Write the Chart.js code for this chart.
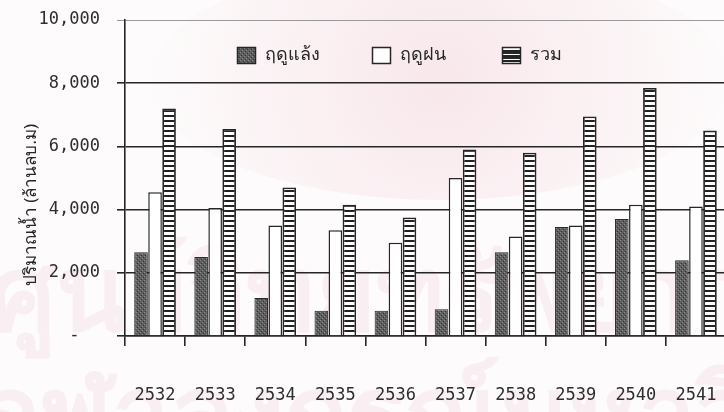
<!DOCTYPE html>
<html>
<head>
<meta charset="utf-8">
<script src="https://cdn.jsdelivr.net/npm/chart.js@4/dist/chart.umd.min.js"></script>
<style>
  html, body { margin: 0; padding: 0; background: #fdfbfb; overflow: hidden; }
  #wrap { position: relative; width: 724px; height: 412px; overflow: hidden; }
  #c { position: absolute; left: 0; top: 0; }
</style>
</head>
<body>
<div id="wrap"><canvas id="c" width="732" height="412"></canvas></div>
<script>
// Water volume by year (million cubic metres)
const years = ['2532', '2533', '2534', '2535', '2536', '2537', '2538', '2539', '2540', '2541'];
const drySeason = [2650, 2500, 1200, 800, 800, 850, 2650, 3450, 3700, 2400];
const rainySeason = [4550, 4050, 3500, 3350, 2950, 5000, 3150, 3500, 4150, 4100];
const totalFlow = [7200, 6550, 4700, 4150, 3750, 5900, 5800, 6950, 7850, 6500];
const seriesNames = ['ฤดูแล้ง', 'ฤดูฝน', 'รวม'];
const yTickValues = [0, 2000, 4000, 6000, 8000, 10000];
const yTitle = 'ปริมาณน้ำ (ล้านลบ.ม)';

const NUM_FONT = "'DejaVu Sans Mono', monospace";
const THAI_FONT = "'Noto Sans', 'DejaVu Sans', sans-serif";
const INK = '#262626';

const canvas = document.getElementById('c');
const ctx = canvas.getContext('2d');

function makePattern(w, h, paint) {
  const t = document.createElement('canvas');
  t.width = w; t.height = h;
  paint(t.getContext('2d'));
  return ctx.createPattern(t, 'repeat');
}

// fine grey stipple for the dry-season bars
const stipple = makePattern(4, 4, g => {
  g.fillStyle = '#5e5e5e'; g.fillRect(0, 0, 4, 4);
  g.fillStyle = '#8c8c8c'; g.fillRect(0, 0, 1, 1); g.fillRect(2, 2, 1, 1);
  g.fillStyle = '#353535'; g.fillRect(1, 3, 1, 1); g.fillRect(3, 1, 1, 1);
});
// horizontal rungs for the total bars
const rungs = makePattern(4, 5, g => {
  g.fillStyle = '#ffffff'; g.fillRect(0, 0, 4, 5);
  g.fillStyle = '#222222'; g.fillRect(0, 0, 4, 2);
});

function fmtTick(v) {
  if (v === 0) return '-  ';
  return v.toLocaleString('en-US');
}

// faint library stamp behind the plot
const backdrop = {
  id: 'backdrop',
  beforeDraw(chart) {
    const g = chart.ctx;
    g.save();
    g.fillStyle = '#fdfbfb';
    g.fillRect(0, 0, chart.width, chart.height);
    const grad = g.createRadialGradient(440, 80, 20, 440, 80, 290);
    grad.addColorStop(0, 'rgba(242,205,215,0.40)');
    grad.addColorStop(1, 'rgba(242,205,215,0)');
    g.fillStyle = grad;
    g.beginPath();
    g.ellipse(440, 80, 290, 120, 0, 0, Math.PI * 2);
    g.fill();
    g.fillStyle = 'rgba(235,190,205,0.20)';
    g.font = "bold 104px 'Noto Sans', sans-serif";
    g.textBaseline = 'alphabetic';
    g.fillText('ศูนย์วิทยทรัพยากร', -10, 330);
    g.fillText('จุฬาลงกรณ์มหาวิทยาลัย', -20, 450);
    g.restore();
  }
};

// legend row inside the plot and the rotated axis caption
const annotations = {
  id: 'annotations',
  afterDraw(chart) {
    const g = chart.ctx;
    g.save();
    const boxX = [237, 372, 502];
    chart.data.datasets.forEach((ds, i) => {
      const x = boxX[i], y = 47;
      g.fillStyle = ds.backgroundColor;
      g.fillRect(x, y, 19, 17);
      g.lineWidth = 1.5;
      g.strokeStyle = INK;
      g.strokeRect(x + 0.5, y + 0.5, 18, 16);
      if (i === 2) {
        g.fillStyle = INK;
        g.fillRect(x, y + 5, 19, 2);
        g.fillRect(x, y + 10, 19, 2);
      }
      g.fillStyle = INK;
      g.font = '18px ' + THAI_FONT;
      g.textBaseline = 'middle';
      g.textAlign = 'left';
      g.fillText(ds.label, x + 28, y + 8);
    });
    g.translate(31, 205);
    g.rotate(-Math.PI / 2);
    g.textAlign = 'center';
    g.textBaseline = 'middle';
    g.font = '17px ' + THAI_FONT;
    g.fillStyle = INK;
    g.fillText(yTitle, 0, 0);
    g.restore();
  }
};

new Chart(canvas, {
  type: 'bar',
  data: {
    labels: years,
    datasets: [
      { label: seriesNames[0], data: drySeason, backgroundColor: stipple, borderColor: '#2a2a2a', borderWidth: 1 },
      { label: seriesNames[1], data: rainySeason, backgroundColor: '#ffffff', borderColor: INK, borderWidth: 1.5 },
      { label: seriesNames[2], data: totalFlow, backgroundColor: rungs, borderColor: INK, borderWidth: 1.8 }
    ]
  },
  options: {
    responsive: false,
    animation: false,
    events: [],
    layout: { padding: { left: 0, top: 20, right: 6, bottom: 0 } },
    datasets: { bar: { categoryPercentage: 0.7, barPercentage: 0.97 } },
    plugins: { legend: { display: false }, tooltip: { enabled: false } },
    scales: {
      x: {
        offset: true,
        grid: { offset: true, drawOnChartArea: false, drawTicks: true, tickLength: 10, color: INK, lineWidth: 1.6 },
        border: { display: true, color: INK, width: 1.6 },
        ticks: { color: '#2e2e2e', font: { family: NUM_FONT, size: 17 }, padding: 39, maxRotation: 0 },
        afterFit(scale) {
          scale.height = 76;
          scale.paddingLeft = 0;
          scale.paddingRight = 0;
        }
      },
      y: {
        min: 0,
        max: 10000,
        afterBuildTicks(scale) { scale.ticks = yTickValues.map(v => ({ value: v })); },
        grid: {
          color: c => (c.tick && c.tick.value === 10000 ? '#9a9a9a' : INK),
          lineWidth: c => (c.tick && c.tick.value === 10000 ? 1 : 1.6),
          tickLength: 8
        },
        border: { display: true, color: INK, width: 1.6 },
        ticks: { color: '#2e2e2e', font: { family: NUM_FONT, size: 17 }, padding: 17, callback: v => fmtTick(v) },
        afterFit(scale) {
          scale.width = 125;
          scale.paddingTop = 0;
          scale.paddingBottom = 0;
        }
      }
    }
  },
  plugins: [backdrop, annotations]
});
</script>
</body>
</html>
